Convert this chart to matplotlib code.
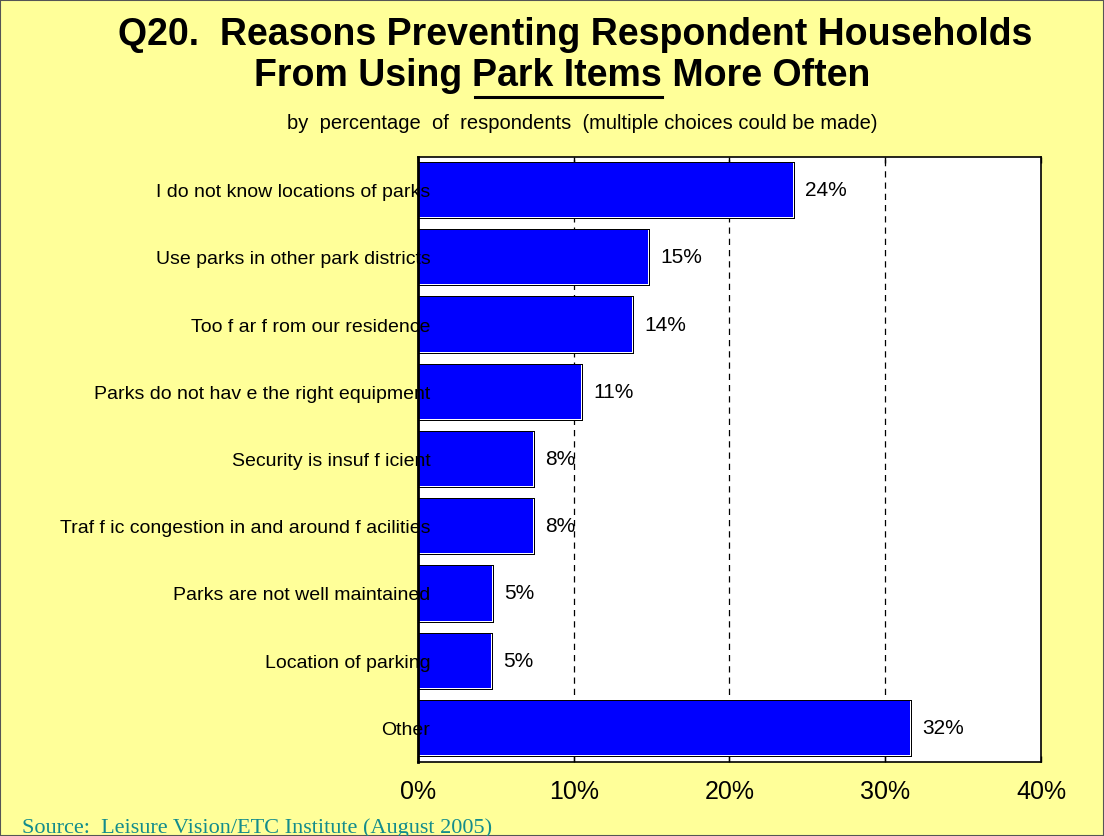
import matplotlib
matplotlib.use("Agg")
import matplotlib.pyplot as plt
from matplotlib.patches import Rectangle
from matplotlib.lines import Line2D

# Survey answers, top to bottom
reasons = [
    "I do not know locations of parks",
    "Use parks in other park districts",
    "Too f ar f rom our residence",
    "Parks do not hav e the right equipment",
    "Security is insuf f icient",
    "Traf f ic congestion in and around f acilities",
    "Parks are not well maintained",
    "Location of parking",
    "Other",
]
percent = [24.2, 14.9, 13.9, 10.6, 7.5, 7.5, 4.9, 4.8, 31.7]
xticks = [0, 10, 20, 30, 40]

plt.rcParams['font.family'] = ['Liberation Sans', 'DejaVu Sans']

bg = '#FFFF99'
fig = plt.figure(figsize=(11.04, 8.36), dpi=100, facecolor=bg)
ax = fig.add_axes([0.3786, 0.0885, 0.5643, 0.7237])
ax.set_facecolor('white')

pos = list(range(len(reasons)))
h = 0.85
dx = 0.064   # about one pixel along x
dy = 0.015   # about one pixel along y

# bars: black outline, white inner rim at right/bottom, blue fill
ax.barh(pos, percent, height=h, color='black', zorder=3)
ax.barh(pos, [v - 2 * dx for v in percent], left=dx, height=h - 2 * dy,
        color='white', zorder=3)
ax.barh([p - dy / 2 for p in pos], [v - 3 * dx for v in percent], left=dx,
        height=h - 3 * dy, color='#0000FF', zorder=3)

for p, v in zip(pos, percent):
    ax.text(v + 0.65, p, f"{v:.0f}%", va='center', ha='left',
            fontsize=15, color='black', zorder=4)

# dashed grid behind the bars
for t in xticks[1:-1]:
    ax.axvline(t, color='black', lw=0.9, dashes=(5, 4), zorder=1)

ax.set_xlim(0, 40)
ax.set_ylim(len(reasons) - 0.5, -0.5)
ax.set_xticks(xticks)
ax.set_xticklabels([f"{t}%" for t in xticks], fontsize=18)
ax.tick_params(axis='x', direction='in', top=True, length=4, width=1, pad=13)
ax.set_yticks(pos)
ax.set_yticklabels(reasons, fontsize=14)
ax.tick_params(axis='y', length=0, pad=-9)
ax.yaxis.set_zorder(5)

for s in ax.spines.values():
    s.set_color('black')
    s.set_linewidth(1.2)
ax.spines['left'].set_linewidth(2)
ax.spines['left'].set_zorder(6)

# title, second line with underlined words
fig.text(0.521, 0.958, "Q20.  Reasons Preventing Respondent Households",
         ha='center', va='center', fontsize=27, fontweight='bold')

y2 = 0.909
parts = ["From Using ", "Park Items", " More Often"]
fig.canvas.draw()
rend = fig.canvas.get_renderer()
tmp = [fig.text(0, y2, s, fontsize=27, fontweight='bold') for s in parts]
widths = [t.get_window_extent(rend).width for t in tmp]
for t in tmp:
    t.remove()
W = fig.bbox.width
x = 0.509 * W - sum(widths) / 2
for s, w in zip(parts, widths):
    fig.text(x / W, y2, s, ha='left', va='center', fontsize=27,
             fontweight='bold')
    if s == "Park Items":
        fig.add_artist(Line2D([(x + 3) / W, (x + w) / W],
                              [y2 - 0.025, y2 - 0.025],
                              transform=fig.transFigure, color='black', lw=2.2))
    x += w

fig.text(0.527, 0.852,
         "by  percentage  of  respondents  (multiple choices could be made)",
         ha='center', va='center', fontsize=14.5)

fig.text(0.02, 0.01, "Source:  Leisure Vision/ETC Institute (August 2005)",
         ha='left', va='center', fontsize=16, color='#138C8C',
         family=['Liberation Serif', 'DejaVu Serif'])

# thin frame around the page
fig.add_artist(Rectangle((0, 0), 1, 1, transform=fig.transFigure, fill=False,
                         edgecolor='#555555', lw=1.5))

fig.savefig("out.png", dpi=100, facecolor=bg)
